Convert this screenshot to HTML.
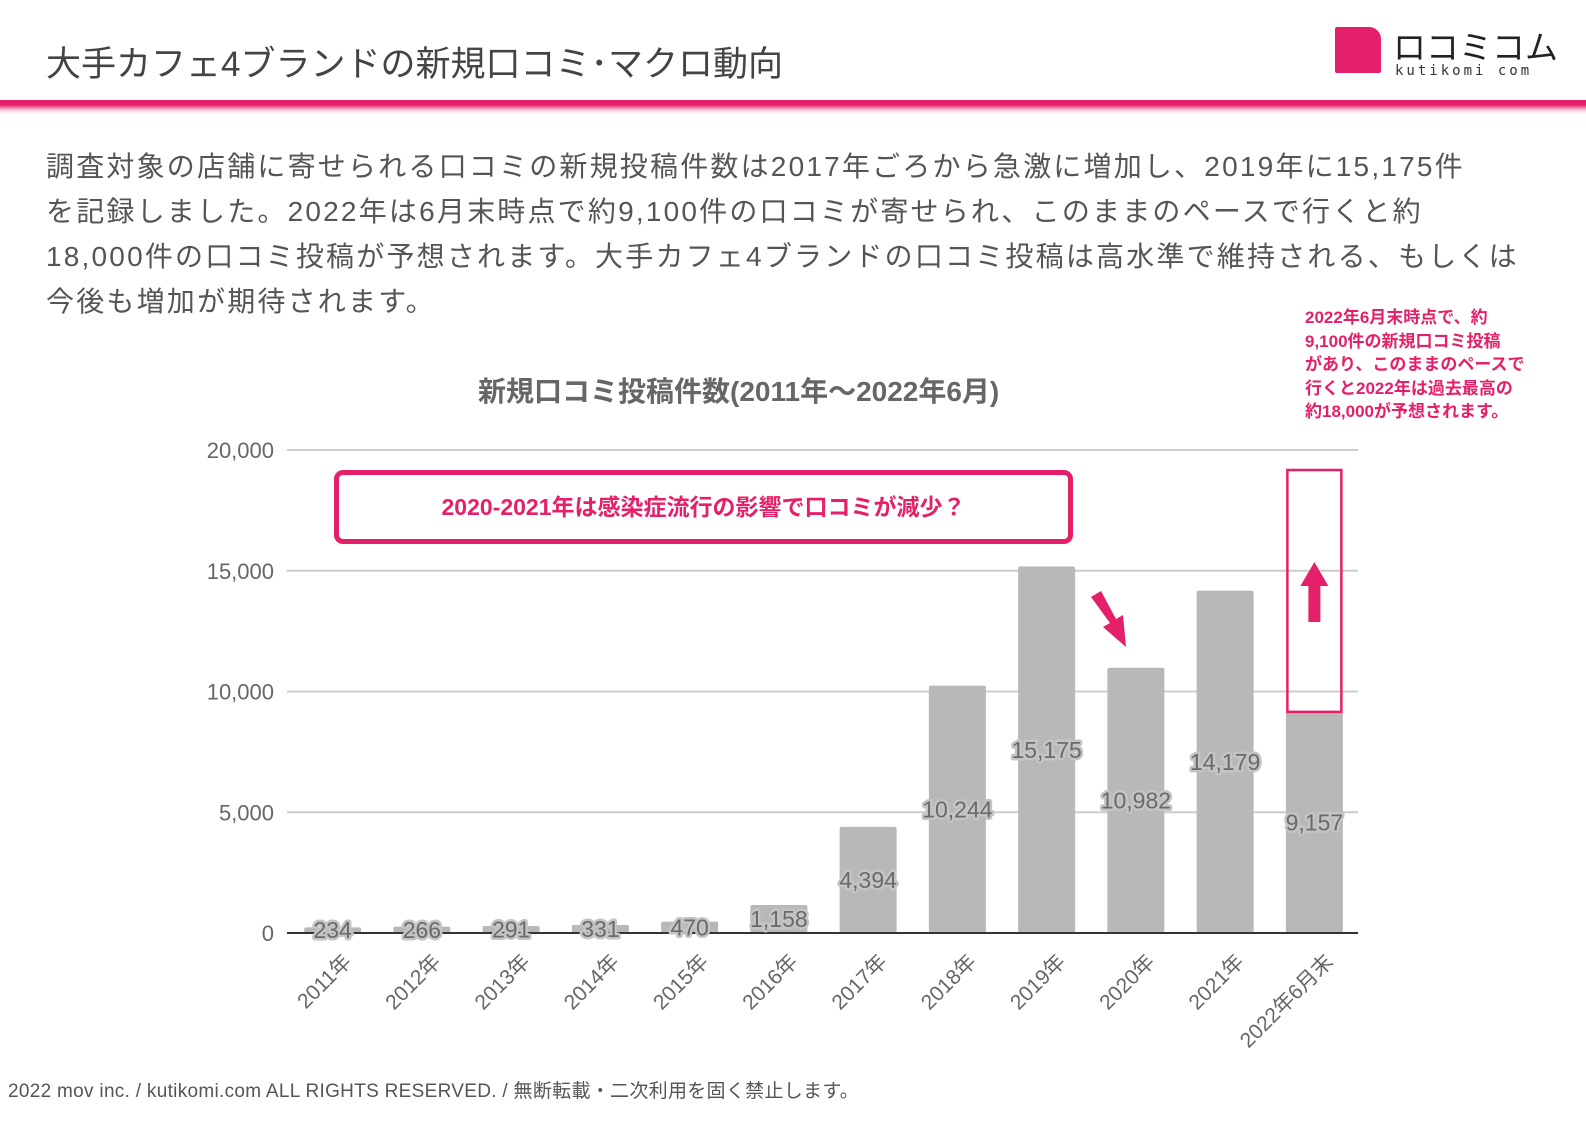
<!DOCTYPE html>
<html><head><meta charset="utf-8"><style>
body{margin:0;width:1586px;height:1122px;background:#fff;overflow:hidden;position:relative;font-family:"Liberation Sans","Noto Sans CJK JP",sans-serif;}
.abs{position:absolute;white-space:nowrap;}
</style></head><body>
<div class="abs" style="left:46px;top:36px;font-size:35px;color:#444;">大手カフェ4ブランドの新規口コミ･マクロ動向</div>
<div class="abs" style="left:1335px;top:25px;width:230px;height:55px;">
  <div class="abs" style="left:0;top:2px;width:46px;height:46px;background:#e5206a;border-radius:2px 12px 2px 2px;"></div>
  <div class="abs" style="left:58px;top:-4px;font-size:33px;color:#222;">ロコミコム</div>
  <div class="abs" style="left:60px;top:38px;font-size:14px;color:#333;letter-spacing:3px;font-family:'DejaVu Sans Mono',monospace;">kutikomi com</div>
</div>
<div class="abs" style="left:0;top:100px;width:1586px;height:14px;background:linear-gradient(#e5206a 0,#e5206a 35%,#f7c3d6 70%,#fff 100%);"></div>
<div class="abs" style="left:46px;top:144px;width:1520px;font-size:28px;line-height:45px;color:#555;letter-spacing:2.2px;">調査対象の店舗に寄せられる口コミの新規投稿件数は2017年ごろから急激に増加し、2019年に15,175件<br>を記録しました。2022年は6月末時点で約9,100件の口コミが寄せられ、このままのペースで行くと約<br>18,000件の口コミ投稿が予想されます。大手カフェ4ブランドの口コミ投稿は高水準で維持される、もしくは<br>今後も増加が期待されます。</div>
<div class="abs" style="left:1305px;top:306px;font-size:17px;line-height:23.5px;font-weight:bold;color:#e5206a;">2022年6月末時点で、約<br>9,100件の新規口コミ投稿<br>があり、このままのペースで<br>行くと2022年は過去最高の<br>約18,000が予想されます。</div>
<div class="abs" style="left:478px;top:370px;font-size:28px;font-weight:bold;color:#666;">新規口コミ投稿件数(2011年～2022年6月)</div>
<svg class="abs" style="left:0;top:0" width="1586" height="1122" id="chart"></svg>
<div class="abs" style="left:334px;top:470px;width:729px;height:64px;border:5px solid #e5206a;border-radius:9px;text-align:center;line-height:64px;font-size:23px;font-weight:bold;color:#e5206a;">2020-2021年は感染症流行の影響で口コミが減少？</div>
<div class="abs" style="left:8px;top:1076px;font-size:19px;color:#555;letter-spacing:0.3px;">2022 mov inc. / kutikomi.com ALL RIGHTS RESERVED. / 無断転載・二次利用を固く禁止します。</div>
<script>
const categories=["2011年","2012年","2013年","2014年","2015年","2016年","2017年","2018年","2019年","2020年","2021年","2022年6月末"];
const values=[234,266,291,331,470,1158,4394,10244,15175,10982,14179,9157];
const labels=["234","266","291","331","470","1,158","4,394","10,244","15,175","10,982","14,179","9,157"];
const yTicks=[0,5000,10000,15000,20000];
const yTickLabels=["0","5,000","10,000","15,000","20,000"];
const NS="http://www.w3.org/2000/svg";
const svg=document.getElementById('chart');
const y0=933,yTop=450,yMax=20000,x0=287,x1=1358;
const y=v=>y0-(v/yMax)*(y0-yTop);
const step=(x1-x0)/categories.length;
const xc=i=>x0+step*(i+0.5)+1;
const bw=57;
function mk(t,a){const e=document.createElementNS(NS,t);for(const k in a)e.setAttribute(k,a[k]);svg.appendChild(e);return e;}
yTicks.forEach((t,i)=>{
  if(t>0){const g=mk('line',{x1:x0,x2:x1,y1:y(t),y2:y(t),stroke:'#ccc','stroke-width':2});
  
  }
  const tx=mk('text',{x:274,y:y(t)+8,'text-anchor':'end','font-size':22,fill:'#666'});
  tx.textContent=yTickLabels[i];
  
  
});
values.forEach((v,i)=>{
  const r=mk('rect',{x:xc(i)-bw/2,y:y(v),width:bw,height:y0-y(v),fill:'#b8b8b8',rx:2});
  
  
});
const ax=mk('line',{x1:x0,x2:x1,y1:y0,y2:y0,stroke:'#333','stroke-width':2});


values.forEach((v,i)=>{
  const cy=(y(v)+y0)/2+8;
  const t=mk('text',{x:xc(i),y:cy,'text-anchor':'middle','font-size':23,fill:'#6a6a6a',stroke:'#c4c4c4','stroke-width':5,'paint-order':'stroke','stroke-linejoin':'round'});
  t.textContent=labels[i];
  
  
  const c=mk('text',{x:0,y:0,'text-anchor':'end','font-size':21,fill:'#666',transform:`translate(${xc(i)+20},${y0+30}) rotate(-45)`});
  c.textContent=categories[i];
  
  
});
const li=values.length-1;
const ar=mk('rect',{x:xc(li)-27,y:470,width:54,height:y(values[li])-470,fill:'none',stroke:'#e5206a','stroke-width':2.5});


const up=mk('path',{d:`M${xc(li)-6},622 L${xc(li)+6},622 L${xc(li)+6},586 L${xc(li)+14},586 L${xc(li)},562 L${xc(li)-14},586 L${xc(li)-6},586 Z`,fill:'#e5206a'});


const dn=mk('path',{d:'M1091,597 L1101,591 L1116,619 L1123,615 L1126,647 L1103,627 L1110,623 Z',fill:'#e5206a'});


</script>
</body></html>
